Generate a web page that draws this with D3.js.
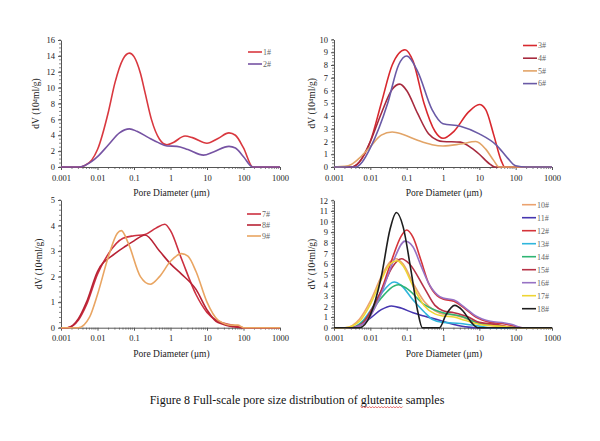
<!DOCTYPE html>
<html><head><meta charset="utf-8">
<script src="https://cdn.jsdelivr.net/npm/d3@7"></script>
<style>
body{margin:0;background:#fff;}
svg{display:block;font-family:"Liberation Serif","Times New Roman",serif;}
</style></head>
<body>
<svg id="c" width="600" height="441"></svg>
<script>
// ---- tick labels ----
const xTickValues = [0.001, 0.01, 0.1, 1, 10, 100, 1000];
const xTickLabels = ["0.001", "0.01", "0.1", "1", "10", "100", "1000"];
const xTitle = "Pore Diameter (\u03bcm)";
const yTitle = "dV (10\u2074ml/g)";
const captionParts = ["Figure 8 Full-scale pore size distribution of ", "glutenite", " samples"];

// ---- series: [diameter (µm), dV] ----
const s1 = [[0.001,0],[0.003,0],[0.0045,0.2],[0.007,0.9],[0.01,2.2],[0.02,7.0],[0.03,10.6],[0.05,13.6],[0.075,14.35],[0.1,13.9],[0.15,11.8],[0.2,9.4],[0.3,6.0],[0.5,3.5],[0.8,2.8],[1.2,3.1],[2.5,3.9],[4,3.7],[10,3.0],[20,3.6],[40,4.3],[60,4.0],[100,2.4],[180,0],[1000,0]];
const s2 = [[0.001,0],[0.003,0],[0.0045,0.2],[0.007,0.7],[0.01,1.3],[0.02,2.8],[0.04,4.3],[0.075,4.8],[0.12,4.5],[0.25,3.7],[0.45,3.1],[0.8,2.65],[1.5,2.6],[3,2.2],[8,1.5],[15,1.9],[40,2.6],[60,2.4],[100,1.3],[180,0],[1000,0]];

const s3 = [[0.001,0],[0.003,0],[0.005,0.4],[0.01,2.0],[0.02,5.0],[0.04,8.0],[0.09,9.2],[0.15,8.3],[0.3,5.0],[0.6,2.8],[1,2.25],[2,2.8],[5,4.3],[10,4.9],[15,4.5],[25,2.5],[40,0.5],[50,0],[1000,0]];
const s4 = [[0.001,0],[0.003,0],[0.005,0.4],[0.01,2.0],[0.02,4.2],[0.04,6.1],[0.065,6.5],[0.1,6.0],[0.2,4.2],[0.4,2.6],[0.7,2.1],[1,2.0],[3,1.95],[6,1.5],[10,1.0],[20,0.2],[27,0],[1000,0]];
const s5 = [[0.001,0],[0.002,0.05],[0.003,0.2],[0.005,0.7],[0.01,1.6],[0.02,2.5],[0.04,2.75],[0.08,2.55],[0.2,2.1],[0.5,1.75],[1,1.65],[3,1.8],[8,2.0],[15,1.4],[25,0.5],[35,0],[1000,0]];
const s6 = [[0.001,0],[0.004,0],[0.006,0.4],[0.01,1.5],[0.03,5.0],[0.06,8.0],[0.1,8.7],[0.2,7.5],[0.5,4.5],[1,3.4],[3,3.2],[10,2.6],[30,1.7],[60,0.7],[100,0.1],[200,0],[1000,0]];

const s7 = [[0.001,0],[0.0015,0],[0.003,0.3],[0.005,0.9],[0.01,2.1],[0.02,2.9],[0.05,3.5],[0.1,3.6],[0.2,3.65],[0.4,3.9],[0.7,4.05],[1,3.8],[2,2.7],[5,1.3],[10,0.6],[20,0.25],[50,0.1],[100,0],[1000,0]];
const s8 = [[0.001,0],[0.0015,0],[0.003,0.35],[0.005,1.0],[0.01,2.2],[0.03,2.9],[0.06,3.2],[0.1,3.4],[0.2,3.63],[0.5,3.0],[1,2.5],[2,2.1],[5,1.5],[10,0.7],[20,0.2],[100,0],[1000,0]];
const s9 = [[0.001,0],[0.003,0],[0.006,0.4],[0.01,1.3],[0.02,2.8],[0.035,3.7],[0.045,3.8],[0.07,3.3],[0.15,2.0],[0.28,1.7],[0.5,2.0],[1,2.6],[2,2.9],[3,2.8],[5,2.2],[10,1.0],[20,0.3],[50,0.1],[70,0.1],[100,0],[1000,0]];

const s10 = [[0.001,0],[0.002,0],[0.005,0.8],[0.01,2.5],[0.02,4.8],[0.035,6.2],[0.05,6.5],[0.08,6.0],[0.15,4.2],[0.3,2.5],[0.6,1.6],[1,1.3],[2,1.2],[4,0.9],[10,0.4],[20,0.2],[50,0.1],[100,0],[1000,0]];
const s11 = [[0.001,0],[0.003,0],[0.006,0.4],[0.01,0.9],[0.02,1.7],[0.038,2.05],[0.07,1.85],[0.15,1.4],[0.3,1.1],[0.8,0.7],[2,0.3],[5,0.05],[10,0],[1000,0]];
const s12 = [[0.001,0],[0.003,0],[0.006,0.3],[0.01,1.2],[0.02,3.5],[0.04,6.5],[0.07,8.6],[0.1,9.2],[0.15,8.5],[0.25,6.3],[0.4,4.2],[0.7,3.0],[1,2.7],[2,2.5],[4,1.8],[8,1.0],[20,0.5],[50,0.35],[100,0.1],[150,0],[1000,0]];
const s13 = [[0.001,0],[0.003,0],[0.006,0.6],[0.01,1.6],[0.02,3.2],[0.045,4.3],[0.07,4.0],[0.15,2.6],[0.3,1.5],[0.5,0.8],[1,0.5],[3,0.4],[10,0.15],[20,0],[1000,0]];
const s14 = [[0.001,0],[0.003,0],[0.006,0.5],[0.01,1.4],[0.02,2.8],[0.06,4.05],[0.1,3.7],[0.3,2.2],[1,1.4],[3,1.1],[10,0.4],[30,0.2],[100,0],[1000,0]];
const s15 = [[0.001,0],[0.003,0],[0.006,0.4],[0.01,1.5],[0.02,3.5],[0.04,5.7],[0.072,6.5],[0.12,6.0],[0.3,3.8],[0.6,2.1],[1,1.6],[2,1.4],[5,1.0],[10,0.5],[30,0.3],[100,0],[1000,0]];
const s16 = [[0.001,0],[0.003,0],[0.006,0.3],[0.01,1.1],[0.02,3.2],[0.04,6.0],[0.09,8.15],[0.15,7.6],[0.25,5.8],[0.4,4.2],[0.7,3.1],[1,2.8],[2,2.6],[4,1.9],[8,1.1],[20,0.6],[50,0.45],[80,0.3],[150,0],[1000,0]];
const s17 = [[0.001,0],[0.002,0],[0.005,0.6],[0.01,2.2],[0.02,4.5],[0.035,6.0],[0.055,6.3],[0.08,5.8],[0.15,3.9],[0.3,2.1],[0.6,1.3],[1,1.1],[2,1.0],[4,0.7],[10,0.3],[20,0.2],[50,0.1],[100,0],[1000,0]];
const s18 = [[0.001,0],[0.005,0],[0.01,1.2],[0.02,4.8],[0.035,9.3],[0.052,10.85],[0.08,9.5],[0.13,5.5],[0.2,1.6],[0.27,0],[0.8,0],[1.2,1.2],[2.1,2.1],[3.5,1.6],[6,0.5],[9,0],[1000,0]];

// ---- panels: series names, colours, y domains ----
const names1 = ["1#","2#"], data1 = [s1,s2], colors1 = ["#d9383f","#7653a3"];
const names2 = ["3#","4#","5#","6#"], data2 = [s3,s4,s5,s6], colors2 = ["#d8282e","#a72a3e","#e2a467","#6a5aa6"];
const names3 = ["7#","8#","9#"], data3 = [s7,s8,s9], colors3 = ["#cc3040","#b82335","#e9a562"];
const names4 = ["10#","11#","12#","13#","14#","15#","16#","17#","18#"];
const data4 = [s10,s11,s12,s13,s14,s15,s16,s17,s18];
const colors4 = ["#eba26f","#4636b0","#d5343a","#2fb6dc","#2fb573","#b73246","#9772c4","#eed533","#1e1e1e"];

const panels = [
  {names:names1, data:data1, colors:colors1, yMax:16, yStep:2, yMinor:0.5, x0:61, x1:280, y0:167, y1:40, yLabX:36, lgX:248, lgY:52, lgDy:12},
  {names:names2, data:data2, colors:colors2, yMax:10, yStep:1, yMinor:0.25, x0:334, x1:552, y0:167, y1:39.5, yLabX:312, lgX:523, lgY:45.5, lgDy:12.7},
  {names:names3, data:data3, colors:colors3, yMax:5, yStep:1, yMinor:0.2, x0:61, x1:280, y0:327.7, y1:200, yLabX:39, lgX:247, lgY:214, lgDy:11},
  {names:names4, data:data4, colors:colors4, yMax:12, yStep:1, yMinor:0.25, x0:334, x1:552, y0:327.7, y1:200.3, yLabX:312, lgX:522, lgY:204.7, lgDy:13}
];

const svg = d3.select("#c");
const axisColor = "#555";

panels.forEach(p => {
  const x = d3.scaleLog().domain([0.001, 1000]).range([p.x0, p.x1]);
  const y = d3.scaleLinear().domain([0, p.yMax]).range([p.y0, p.y1]);
  const g = svg.append("g");

  const minors = [];
  for (let e = -3; e < 3; e++) for (let k = 2; k < 10; k++) minors.push(k * Math.pow(10, e));
  g.selectAll(".xm").data(minors).join("line")
    .attr("x1", d => x(d)).attr("x2", d => x(d))
    .attr("y1", p.y0).attr("y2", p.y0 + 2)
    .attr("stroke", axisColor).attr("stroke-width", 0.7);

  const xa = g.append("g").attr("transform", `translate(0,${p.y0})`)
    .call(d3.axisBottom(x).tickValues(xTickValues).tickFormat((d,i) => xTickLabels[i]).tickSize(3).tickSizeOuter(0));
  xa.select(".domain").attr("stroke", axisColor).attr("stroke-width", 1);
  xa.selectAll(".tick line").attr("stroke", axisColor);
  xa.selectAll("text").attr("font-size", 8.5).attr("fill", "#222").attr("dy", "0.9em")
    .attr("font-family", "Liberation Serif, serif");

  const ym = d3.range(0, p.yMax + 1e-9, p.yMinor);
  g.selectAll(".ym").data(ym).join("line")
    .attr("x1", p.x0 - 2).attr("x2", p.x0)
    .attr("y1", d => y(d)).attr("y2", d => y(d))
    .attr("stroke", axisColor).attr("stroke-width", 0.7);

  const ya = g.append("g").attr("transform", `translate(${p.x0},0)`)
    .call(d3.axisLeft(y).tickValues(d3.range(0, p.yMax + 1e-9, p.yStep)).tickFormat(d3.format("d")).tickSize(3).tickSizeOuter(0));
  ya.select(".domain").attr("stroke", axisColor).attr("stroke-width", 1);
  ya.selectAll(".tick line").attr("stroke", axisColor);
  ya.selectAll("text").attr("font-size", 8.5).attr("fill", "#222")
    .attr("font-family", "Liberation Serif, serif");

  g.append("text").attr("x", (p.x0 + p.x1) / 2 + 1).attr("y", p.y0 + 29)
    .attr("text-anchor", "middle").attr("font-size", 9.5).attr("fill", "#222").text(xTitle);
  g.append("text").attr("transform", `translate(${p.yLabX},${(p.y0 + p.y1) / 2}) rotate(-90)`)
    .attr("text-anchor", "middle").attr("dy", "0.35em").attr("font-size", 9.5).attr("fill", "#222").text(yTitle);

  const line = d3.line().x(d => x(d[0])).y(d => y(d[1])).curve(d3.curveMonotoneX);
  p.data.forEach((s, i) => {
    g.append("path").attr("d", line(s)).attr("fill", "none")
      .attr("stroke", p.colors[i]).attr("stroke-width", 1.6).attr("stroke-linejoin", "round");
  });

  p.names.forEach((n, i) => {
    const ly = p.lgY + i * p.lgDy;
    g.append("line").attr("x1", p.lgX).attr("x2", p.lgX + 14).attr("y1", ly).attr("y2", ly)
      .attr("stroke", p.colors[i]).attr("stroke-width", 1.6);
    g.append("text").attr("x", p.lgX + 15).attr("y", ly).attr("dy", "0.35em")
      .attr("font-size", 8).attr("fill", "#666").text(n);
  });
});

// caption with spell-check style wavy underline under "glutenite"
const cap = svg.append("text").attr("x", 297).attr("y", 404).attr("text-anchor", "middle")
  .attr("font-size", 12).attr("fill", "#111");
const t0 = cap.append("tspan").text(captionParts[0]);
const t1 = cap.append("tspan").text(captionParts[1]);
cap.append("tspan").text(captionParts[2]);
const capNode = cap.node();
const startIdx = captionParts[0].length;
const sx = capNode.getStartPositionOfChar(startIdx).x;
const wlen = capNode.getSubStringLength(startIdx, captionParts[1].length);
let wave = `M${sx},${406.5}`;
for (let px = sx, k = 0; px < sx + wlen; px += 1.5, k++) {
  wave += ` L${px + 1.5},${k % 2 ? 406.5 : 408}`;
}
svg.append("path").attr("d", wave).attr("fill", "none").attr("stroke", "#d33").attr("stroke-width", 0.7);
</script>
</body></html>
